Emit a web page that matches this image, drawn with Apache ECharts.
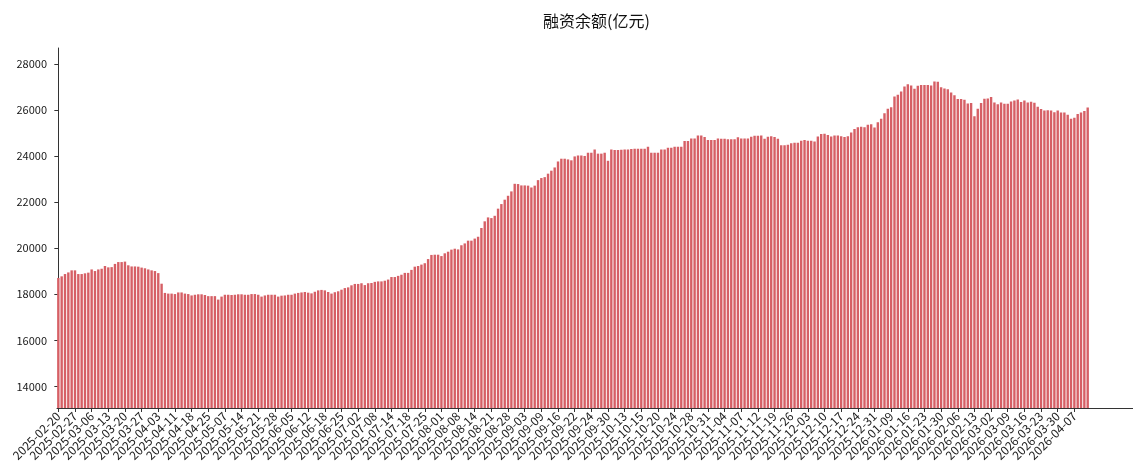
<!DOCTYPE html>
<html>
<head>
<meta charset="utf-8">
<script src="https://cdn.jsdelivr.net/npm/echarts@6/dist/echarts.min.js"></script>
<style type="text/css">
html, body { margin: 0; padding: 0; background: #fff; }
</style>
</head>
<body>
<div style="width: 1133px;height: 474px;" id="chart"></div>
<script>

// 每5个交易日一个刻度
let tickLabels = [
    '2025-02-20', '2025-02-27', '2025-03-06', '2025-03-13', '2025-03-20', '2025-03-27',
    '2025-04-03', '2025-04-11', '2025-04-18', '2025-04-25', '2025-05-07', '2025-05-14',
    '2025-05-21', '2025-05-28', '2025-06-05', '2025-06-12', '2025-06-18', '2025-06-25',
    '2025-07-02', '2025-07-08', '2025-07-14', '2025-07-18', '2025-07-25', '2025-08-01',
    '2025-08-08', '2025-08-14', '2025-08-21', '2025-08-28', '2025-09-03', '2025-09-09',
    '2025-09-16', '2025-09-22', '2025-09-24', '2025-09-30', '2025-10-13', '2025-10-15',
    '2025-10-20', '2025-10-24', '2025-10-28', '2025-10-31', '2025-11-04', '2025-11-07',
    '2025-11-12', '2025-11-19', '2025-11-26', '2025-12-03', '2025-12-10', '2025-12-17',
    '2025-12-24', '2025-12-31', '2026-01-09', '2026-01-16', '2026-01-23', '2026-01-30',
    '2026-02-06', '2026-02-13', '2026-03-02', '2026-03-09', '2026-03-16', '2026-03-23',
    '2026-03-30', '2026-04-07'
];
let tickStep = 5;

// 融资余额(亿元), 按交易日顺序
let values = [
    18710, 18780, 18880, 18950, 19040, 19040, 18880, 18880, 18910, 18940,
    19080, 19010, 19080, 19110, 19230, 19170, 19180, 19320, 19400, 19400,
    19420, 19260, 19210, 19210, 19200, 19160, 19130, 19080, 19040, 19010,
    18920, 18460, 18060, 18030, 18030, 18010, 18080, 18080, 18030, 18010,
    17950, 17980, 18000, 18000, 17970, 17920, 17920, 17920, 17770, 17900,
    17980, 17980, 17970, 17980, 18000, 18000, 17980, 17980, 18010, 18010,
    17980, 17900, 17950, 17980, 17980, 17980, 17900, 17940, 17950, 17980,
    17980, 18030, 18060, 18080, 18100, 18070, 18040, 18110,
    18170, 18190, 18170, 18100, 18030, 18090, 18130, 18200, 18270, 18300,
    18390, 18450, 18450, 18480, 18400, 18480, 18490, 18540, 18560, 18560,
    18590, 18640, 18750, 18750, 18800, 18850, 18930, 18930, 19060, 19200,
    19230, 19290, 19350, 19530, 19710, 19720, 19720, 19660, 19780, 19850,
    19940, 19980, 19950, 20130, 20210, 20330, 20330, 20420, 20500, 20880,
    21170, 21340, 21310, 21410, 21720, 21920, 22110, 22280, 22470, 22800,
    22790, 22730, 22730, 22720, 22640, 22720, 22960, 23050, 23090, 23240,
    23370, 23510, 23770, 23890, 23890, 23860, 23820, 23990,
    24030, 24030, 24010, 24150, 24150, 24290, 24110, 24110, 24150, 23800,
    24290, 24270, 24270, 24280, 24290, 24290, 24310, 24320, 24320, 24320,
    24320, 24410, 24150, 24150, 24150, 24290, 24290, 24370, 24370, 24410,
    24410, 24410, 24660, 24660, 24770, 24770, 24900, 24900, 24830, 24700,
    24700, 24700, 24770, 24760, 24760, 24740, 24740, 24740, 24820, 24770,
    24770, 24770, 24840, 24890, 24890, 24900, 24760, 24840, 24870, 24830,
    24760, 24470, 24470, 24500, 24560, 24580, 24580, 24670, 24700, 24670,
    24670, 24640, 24860, 24960, 24970, 24920, 24860, 24900,
    24900, 24870, 24830, 24870, 25030, 25180, 25260, 25280, 25260, 25370,
    25390, 25250, 25470, 25630, 25870, 26060, 26130, 26590, 26670, 26810,
    27030, 27130, 27070, 26930, 27060, 27090, 27090, 27090, 27070, 27250,
    27230, 27000, 26940, 26910, 26770, 26650, 26480, 26480, 26450, 26290,
    26310, 25730, 26060, 26310, 26490, 26510, 26570, 26330, 26260, 26330,
    26280, 26280, 26380, 26420, 26460, 26350, 26420, 26330, 26360, 26320,
    26150, 26050, 25990, 26000, 25990, 25910, 25990, 25900, 25900, 25800,
    25630, 25670, 25830, 25900, 25960, 26120
];

let yTicks = [14000, 16000, 18000, 20000, 22000, 24000, 26000, 28000];

let xMin = -0.4;
let xMax = 322.6;

let chart = echarts.init(document.getElementById('chart'));

let xTickPos = tickLabels.map((d, i) => i * tickStep);
// 两端各放一个空白标签, 避免首尾日期被当成重叠标签隐藏
let xLabelPos = [xMin].concat(xTickPos, [xMax]);
let seriesData = values.map((v, i) => [i, v]);

let option = {
    animation: false,
    title: {
        text: '融资余额(亿元)',
        left: 538,
        top: 8,
        textStyle: {
            fontFamily: 'Noto Sans CJK SC',
            fontSize: 16,
            fontWeight: 'normal',
            color: '#111'
        }
    },
    grid: {
        left: 57,
        right: 0,
        top: 48,
        bottom: 66,
        containLabel: false,
        outerBoundsMode: 'none'
    },
    xAxis: {
        type: 'value',
        min: xMin,
        max: xMax,
        axisLine: {lineStyle: {color: '#333', width: 1}},
        axisTick: {
            show: true,
            length: 4,
            customValues: xTickPos,
            lineStyle: {color: '#333'}
        },
        axisLabel: {
            customValues: xLabelPos,
            rotate: 45,
            margin: 6,
            fontSize: 12,
            fontFamily: 'Noto Sans CJK SC',
            color: '#1a1a1a',
            formatter: v => (v >= 0 && v % tickStep === 0 && tickLabels[v / tickStep]) || ' '
        },
        splitLine: {show: false}
    },
    yAxis: {
        type: 'value',
        min: 13060,
        max: 28700,
        axisLine: {show: true, lineStyle: {color: '#333', width: 1}},
        axisTick: {
            show: true,
            length: 4,
            customValues: yTicks,
            lineStyle: {color: '#333'}
        },
        axisLabel: {
            customValues: yTicks,
            margin: 10,
            fontSize: 11,
            fontFamily: 'Noto Sans CJK SC',
            color: '#1a1a1a',
            formatter: v => String(v)
        },
        splitLine: {show: false}
    },
    series: [{
        type: 'bar',
        data: seriesData,
        barWidth: 2.4,
        itemStyle: {
            color: '#d65f65'
        }
    }]
};

chart.setOption(option);

</script>
</body>
</html>
